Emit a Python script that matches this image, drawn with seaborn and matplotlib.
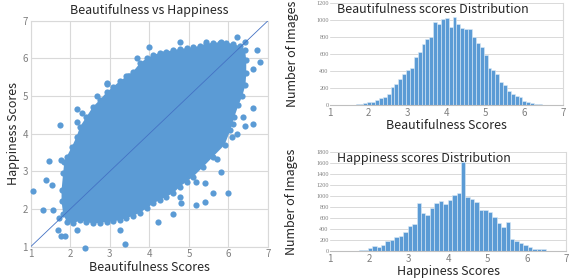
import numpy as np
import pandas as pd
import matplotlib
matplotlib.use("Agg")
import matplotlib.pyplot as plt
import seaborn as sns

# ---- data ----
# dense body of the scatter cloud (outline, clockwise from the left)
cloud_x = [1.82, 1.85, 1.91, 2.04, 2.16, 2.25, 2.41, 2.58, 2.75, 2.92, 3.09, 3.26, 3.42, 3.59,
           3.76, 3.93, 4.10, 4.27, 4.43, 4.60, 4.77, 4.94, 5.11, 5.28, 5.44, 5.61, 5.78, 5.95,
           6.12, 6.30, 6.42, 6.45, 6.45, 6.43, 6.35, 6.25, 6.15, 6.05, 5.90, 5.61, 5.36, 5.11,
           4.94, 4.77, 4.60, 4.43, 4.27, 4.10, 3.93, 3.76, 3.59, 3.42, 3.26, 3.09, 2.92, 2.75,
           2.58, 2.41, 2.25, 2.08, 1.91, 1.82, 1.78, 1.78]
cloud_y = [2.95, 3.25, 3.39, 3.65, 3.92, 4.19, 4.45, 4.72, 4.90, 5.10, 5.25, 5.40, 5.52, 5.65,
           5.87, 6.00, 6.09, 6.15, 6.18, 6.22, 6.25, 6.27, 6.30, 6.33, 6.38, 6.42, 6.42, 6.42,
           6.38, 6.32, 6.22, 5.95, 5.60, 5.30, 5.00, 4.75, 4.45, 4.10, 3.70, 3.39, 3.12, 2.86,
           2.73, 2.59, 2.42, 2.33, 2.24, 2.15, 2.02, 1.90, 1.82, 1.76, 1.71, 1.67, 1.66, 1.63,
           1.62, 1.65, 1.70, 1.62, 1.66, 1.88, 2.20, 2.50]

# stray points outside / on the rim of the dense body
out_x = [1.07, 1.30, 1.38, 1.47, 1.53, 1.74, 1.76, 1.77, 1.87, 2.16, 2.30, 2.37, 2.18, 2.67,
         2.92, 3.38, 3.26, 3.69, 3.99, 4.22, 4.59, 4.77, 5.19, 5.40, 5.60, 6.00, 5.80, 5.40,
         6.22, 6.71, 6.79, 6.61, 6.62, 6.41, 6.22, 6.37, 6.12, 4.77, 4.81, 3.47, 1.57, 1.70,
         1.72, 5.19, 2.92, 3.30, 3.49, 4.34, 5.44, 5.81, 6.41, 6.62, 2.58, 2.16, 5.70, 6.08]
out_y = [2.49, 1.97, 2.77, 3.27, 2.64, 4.22, 3.30, 1.29, 1.29, 4.65, 4.54, 0.96, 1.44, 5.01,
         5.34, 1.07, 1.44, 6.00, 6.29, 1.65, 1.88, 6.44, 2.10, 2.19, 2.43, 2.43, 2.98, 2.68,
         6.56, 6.22, 5.89, 4.67, 4.25, 4.21, 3.99, 4.45, 4.27, 2.33, 2.17, 5.53, 1.97, 1.44,
         1.75, 2.73, 5.32, 5.34, 5.54, 6.11, 6.44, 6.44, 6.44, 5.71, 4.58, 4.32, 3.34, 3.92]

# histogram of beautifulness scores (bins of 0.1 starting at 1.56)
beauty_start, beauty_width = 1.56, 0.1
beauty_counts = [3, 8, 16, 24, 32, 36, 56, 80, 96, 136,
                 216, 248, 304, 368, 408, 440, 568, 628, 716, 776,
                 808, 976, 956, 1016, 1028, 916, 1044, 960, 908, 896,
                 896, 808, 728, 684, 588, 440, 416, 368, 268, 236,
                 172, 128, 110, 90, 50, 40, 30, 15, 10, 5]

# histogram of happiness scores
happy_start, happy_width = 1.39, 0.113
happy_counts = [2, 2, 0, 6, 10, 42, 90, 73, 103, 170, 194, 260, 267, 340, 455, 485, 880,
                685, 655, 788, 880, 910, 860, 933, 1024, 1055, 1610, 982, 940, 891, 740,
                740, 709, 624, 509, 430, 527, 218, 170, 133, 97, 73, 30, 24, 24, 0, 3, 3]

score_ticks = [1, 2, 3, 4, 5, 6, 7]

BLUE = "#5B9BD5"
LINE = "#4472C4"
GRID = "#D9D9D9"
TICK = "#7F7F7F"

sns.set_style("white")
plt.rcParams['font.family'] = ['Noto Sans CJK SC', 'DejaVu Sans']
plt.rcParams['font.weight'] = 'light'

fig = plt.figure(figsize=(5.76, 2.78), dpi=100)

# ---- scatter: beautifulness vs happiness ----
ax1 = fig.add_axes([0.0533, 0.1126, 0.412, 0.813])
ax1.fill(cloud_x, cloud_y, color=BLUE, lw=0, zorder=2)
sns.scatterplot(x=cloud_x, y=cloud_y, color=BLUE, s=20, linewidth=0, ax=ax1, zorder=3,
                clip_on=False)
sns.scatterplot(x=out_x, y=out_y, color=BLUE, s=20, linewidth=0, ax=ax1, zorder=3,
                clip_on=False)
sns.lineplot(x=[1, 7], y=[1, 7], color=LINE, lw=0.6, ax=ax1, zorder=4)
ax1.set_xlim(1, 7)
ax1.set_ylim(1, 7)
ax1.set_xticks(score_ticks)
ax1.set_yticks(score_ticks)
ax1.grid(True, color=GRID, lw=0.8)
ax1.set_axisbelow(True)
for sp in ax1.spines.values():
    sp.set_color(GRID)
    sp.set_linewidth(0.8)
ax1.tick_params(length=0, labelsize=7, colors=TICK, pad=2)
ax1.set_title("Beautifulness vs Happiness", fontsize=9, pad=5)
ax1.set_xlabel("Beautifulness Scores", fontsize=9, labelpad=1)
ax1.set_ylabel("Happiness Scores", fontsize=9, labelpad=2)


def draw_hist(ax, start, width, counts, top, title, xlabel):
    n = len(counts)
    edges = [start + width * i for i in range(n + 1)]
    df = pd.DataFrame({"score": [e + width / 2 for e in edges[:-1]], "count": counts})
    sns.histplot(data=df, x="score", weights="count", bins=edges, color=BLUE, alpha=1,
                 edgecolor="#DDEBF7", linewidth=0.4, ax=ax)
    ax.set_xlim(1, 7)
    ax.set_ylim(0, top)
    ax.set_xticks(score_ticks)
    ax.set_yticks(list(range(0, top + 1, 200)))
    ax.yaxis.grid(True, color=GRID, lw=0.7)
    ax.set_axisbelow(True)
    ax.spines['left'].set_visible(False)
    ax.spines['top'].set_visible(False)
    ax.spines['right'].set_color(GRID)
    ax.spines['bottom'].set_color("#BFBFBF")
    ax.tick_params(axis='x', length=0, labelsize=7, colors=TICK, pad=2)
    ax.tick_params(axis='y', length=0, labelsize=4.5, colors=TICK, pad=1)
    for lab in ax.get_yticklabels():
        lab.set_family('Liberation Serif')
    ax.text(0.03, 1.0, title, transform=ax.transAxes, fontsize=9, va='top', ha='left')
    ax.set_xlabel(xlabel, fontsize=9, labelpad=1)
    ax.set_ylabel("Number of Images", fontsize=9)
    ax.yaxis.set_label_coords(-0.135, 0.5)


ax2 = fig.add_axes([0.573, 0.622, 0.404, 0.366])
draw_hist(ax2, beauty_start, beauty_width, beauty_counts, 1200,
          "Beautifulness scores Distribution", "Beautifulness Scores")

ax3 = fig.add_axes([0.573, 0.098, 0.41, 0.355])
draw_hist(ax3, happy_start, happy_width, happy_counts, 1800,
          "Happiness scores Distribution", "Happiness Scores")

fig.savefig("out.png", dpi=100)
